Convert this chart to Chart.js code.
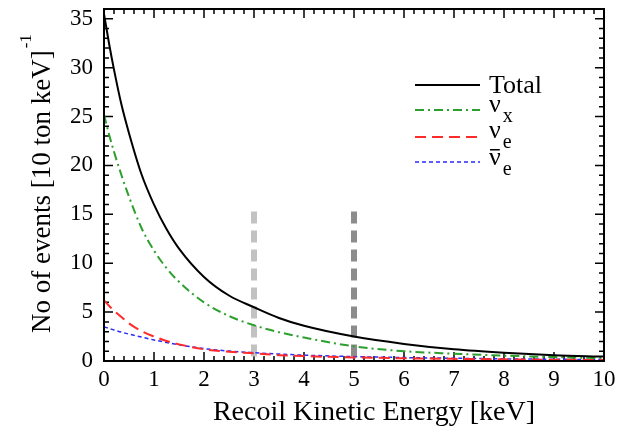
<!DOCTYPE html>
<html>
<head>
<meta charset="utf-8">
<script src="https://cdn.jsdelivr.net/npm/chart.js@4.4.0/dist/chart.umd.min.js"></script>
<style>
  html, body { margin: 0; padding: 0; background: #fff; }
  canvas { display: block; }
</style>
</head>
<body>
<canvas id="chart" width="636" height="426"></canvas>
<script>
// recoil energy grid (keV) and event rates
const energy = [0, 0.1, 0.2, 0.35, 0.5, 0.75, 1, 1.25, 1.5, 2, 2.5, 3, 3.5, 4, 5, 6, 7, 8, 9, 10];
const total  = [35.5, 32.5, 29.8, 26.2, 23.3, 19.1, 16.0, 13.5, 11.5, 8.6, 6.7, 5.5, 4.4, 3.6, 2.5, 1.75, 1.2, 0.85, 0.6, 0.45];
const nuX    = [25.2, 23.2, 21.4, 19.0, 16.8, 13.6, 11.3, 9.5, 8.1, 6.0, 4.6, 3.65, 2.95, 2.4, 1.5, 1.0, 0.75, 0.55, 0.4, 0.3];
const nuE    = [6.2, 5.65, 5.15, 4.5, 3.85, 3.05, 2.5, 2.05, 1.7, 1.2, 0.95, 0.78, 0.6, 0.5, 0.37, 0.28, 0.22, 0.17, 0.13, 0.1];
const nuEBar = [3.5, 3.33, 3.18, 2.95, 2.75, 2.45, 2.15, 1.9, 1.65, 1.27, 1.02, 0.85, 0.71, 0.6, 0.45, 0.35, 0.28, 0.22, 0.18, 0.15];

// threshold markers
const thresholds = [3, 5];
const thresholdTop = 15.3;
const thresholdColors = ['#c2c2c2', '#8c8c8c'];

const xTicks = [0, 1, 2, 3, 4, 5, 6, 7, 8, 9, 10];
const yTicks = [0, 5, 10, 15, 20, 25, 30, 35];

const SERIF = '"Liberation Serif", "DejaVu Serif", serif';

const curves = [
    { label: 'Total', data: total, color: '#000000', width: 2, dash: [] },
    { label: 'nuX', data: nuX, color: '#2ca02c', width: 2, dash: [9, 4, 2, 4] },
    { label: 'nuE', data: nuE, color: '#ff2a2a', width: 2, dash: [11, 6] },
    { label: 'nuEBar', data: nuEBar, color: '#2a2aff', width: 1.5, dash: [4, 3] }
];

const datasets = curves.map(c => ({
    label: c.label,
    data: energy.map((e, i) => ({ x: e, y: c.data[i] })),
    borderColor: c.color,
    borderWidth: c.width,
    borderDash: c.dash,
    pointRadius: 0,
    fill: false,
    cubicInterpolationMode: 'monotone'
}));

thresholds.forEach((t, i) => {
    datasets.push({
        label: 'threshold ' + t,
        data: [{ x: t, y: thresholdTop }, { x: t, y: 0 }],
        borderColor: thresholdColors[i],
        borderWidth: 6,
        borderDash: [12, 7],
        borderCapStyle: 'butt',
        pointRadius: 0,
        fill: false
    });
});

// inner ticks on all four sides plus the closed frame
const frameTicks = {
    id: 'frameTicks',
    beforeDatasetsDraw(chart) {
        const { ctx, chartArea: a, scales: { x, y } } = chart;
        ctx.save();
        ctx.strokeStyle = '#000';
        ctx.lineWidth = 1.5;
        ctx.beginPath();
        for (let i = 0; i <= 50; i++) {
            const px = x.getPixelForValue(i / 5);
            const len = i % 5 === 0 ? 9 : 5;
            ctx.moveTo(px, a.bottom); ctx.lineTo(px, a.bottom - len);
            ctx.moveTo(px, a.top); ctx.lineTo(px, a.top + len);
        }
        for (let v = 0; v <= 36; v++) {
            const py = y.getPixelForValue(v);
            const len = v % 5 === 0 ? 9 : 5;
            ctx.moveTo(a.left, py); ctx.lineTo(a.left + len, py);
            ctx.moveTo(a.right, py); ctx.lineTo(a.right - len, py);
        }
        ctx.stroke();
        ctx.restore();
    },
    afterDatasetsDraw(chart) {
        const { ctx, chartArea: a } = chart;
        ctx.save();
        ctx.strokeStyle = '#000';
        ctx.lineWidth = 2;
        ctx.strokeRect(a.left, a.top, a.right - a.left, a.bottom - a.top);
        ctx.restore();
    }
};

function drawNu(ctx, x, y, sub, bar) {
    ctx.font = '26px ' + SERIF;
    ctx.fillText('\u03bd', x, y);
    const w = ctx.measureText('\u03bd').width;
    if (bar) {
        ctx.fillRect(x + 1, y - 16, w - 2, 1.5);
    }
    ctx.font = '20px ' + SERIF;
    ctx.fillText(sub, x + w + 2, y + 10);
}

// legend and axis titles need sub/superscripts, so they are drawn by hand
const annotations = {
    id: 'annotations',
    afterDraw(chart) {
        const ctx = chart.ctx;
        ctx.save();
        ctx.fillStyle = '#000';
        ctx.textBaseline = 'alphabetic';

        const rows = [85, 110, 137, 162];
        curves.forEach((c, i) => {
            ctx.beginPath();
            ctx.strokeStyle = c.color;
            ctx.lineWidth = c.width;
            ctx.setLineDash(c.dash);
            ctx.moveTo(415, rows[i]);
            ctx.lineTo(480, rows[i]);
            ctx.stroke();
        });
        ctx.setLineDash([]);
        ctx.font = '26px ' + SERIF;
        ctx.fillText('Total', 489, 93);
        drawNu(ctx, 489, 112, 'x', false);
        drawNu(ctx, 489, 138, 'e', false);
        drawNu(ctx, 489, 165, 'e', true);

        // x axis title
        ctx.font = '28px ' + SERIF;
        ctx.textAlign = 'center';
        ctx.fillText('Recoil Kinetic Energy [keV]', 374, 420);
        ctx.textAlign = 'left';

        // y axis title
        ctx.translate(50, 333);
        ctx.rotate(-Math.PI / 2);
        ctx.font = '27px ' + SERIF;
        const main = 'No of events [10 ton keV]';
        ctx.fillText(main, 0, 0);
        const w = ctx.measureText(main).width;
        ctx.font = '17px ' + SERIF;
        ctx.fillText('-1', w + 2, -19);
        ctx.restore();
    }
};

new Chart(document.getElementById('chart'), {
    type: 'line',
    data: { datasets },
    options: {
        responsive: false,
        animation: false,
        devicePixelRatio: 1,
        layout: { padding: { top: 9, right: 32, left: 0, bottom: 0 } },
        plugins: {
            legend: { display: false },
            tooltip: { enabled: false }
        },
        scales: {
            x: {
                type: 'linear',
                min: 0,
                max: 10,
                afterFit(scale) {
                    scale.height = 65;
                    scale.paddingLeft = 0;
                    scale.paddingRight = 0;
                },
                afterBuildTicks(scale) { scale.ticks = xTicks.map(v => ({ value: v })); },
                grid: { display: false, drawTicks: false },
                border: { display: false },
                ticks: {
                    color: '#000',
                    padding: 5,
                    maxRotation: 0,
                    font: { family: SERIF, size: 23 }
                }
            },
            y: {
                type: 'linear',
                min: 0,
                max: 36,
                afterFit(scale) {
                    scale.width = 104;
                    scale.paddingTop = 0;
                    scale.paddingBottom = 0;
                },
                afterBuildTicks(scale) { scale.ticks = yTicks.map(v => ({ value: v })); },
                grid: { display: false, drawTicks: false },
                border: { display: false },
                ticks: {
                    color: '#000',
                    padding: 11,
                    font: { family: SERIF, size: 23 }
                }
            }
        }
    },
    plugins: [frameTicks, annotations]
});
</script>
</body>
</html>
